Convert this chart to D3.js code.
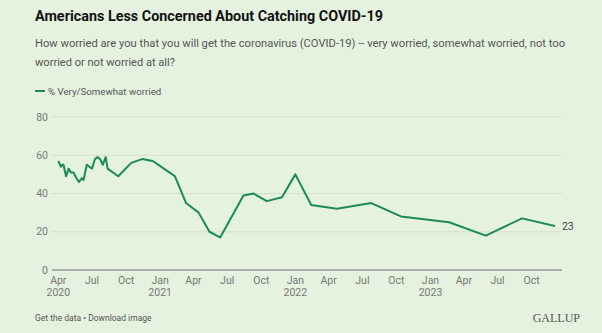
<!DOCTYPE html>
<html>
<head>
<meta charset="utf-8">
<script src="https://cdn.jsdelivr.net/npm/d3@7"></script>
<style>
  html, body { margin: 0; padding: 0; background: #e5f2e0; }
  svg { display: block; font-family: Roboto, "Liberation Sans", sans-serif; }
</style>
</head>
<body>
<svg id="chart" width="602" height="333"></svg>
<script>
var dates = ["2020-04-01","2020-04-08","2020-04-12","2020-04-15","2020-04-22","2020-04-29",
  "2020-05-05","2020-05-12","2020-05-20","2020-05-27","2020-06-03","2020-06-08","2020-06-17",
  "2020-06-24","2020-07-01","2020-07-09","2020-07-16","2020-07-23","2020-07-30","2020-08-07",
  "2020-08-12","2020-09-10","2020-10-15","2020-11-13","2020-12-12","2021-01-19","2021-02-10",
  "2021-03-12","2021-04-15","2021-05-14","2021-06-12","2021-08-14","2021-09-10","2021-10-16",
  "2021-11-26","2022-01-01","2022-02-13","2022-04-23","2022-07-25","2022-10-13","2023-02-20",
  "2023-05-30","2023-09-05","2023-12-03"];
var worried = [57, 54, 55, 55, 49, 53, 51, 51, 48, 46, 48, 47, 55, 54, 53, 58, 59, 58, 55, 59,
  53, 49, 56, 58, 57, 52, 49, 35, 30, 20, 17, 39, 40, 36, 38, 50, 34, 32, 35, 28, 25, 18, 27, 23];
var yTicks = [0, 20, 40, 60, 80];
var monthTicks = ["2020-04-01","2020-07-01","2020-10-01","2021-01-01","2021-04-01","2021-07-01",
  "2021-10-01","2022-01-01","2022-04-01","2022-07-01","2022-10-01","2023-01-01","2023-04-01",
  "2023-07-01","2023-10-01"];
var yearLabels = ["2020-04-01","2021-01-01","2022-01-01","2023-01-01"];

var parse = d3.timeParse("%Y-%m-%d");
var data = dates.map(function(d, i) { return {date: parse(d), value: worried[i]}; });

var svg = d3.select("#chart");
var green = "#1b8a54";

var x = d3.scaleTime()
    .domain([parse("2020-03-15"), parse("2023-12-22")])
    .range([52, 562]);
var y = d3.scaleLinear().domain([0, 80]).range([270, 117]);

// header
svg.append("text")
    .attr("x", 35).attr("y", 21)
    .attr("font-size", "15.5px").attr("font-weight", "bold").attr("fill", "#111")
    .attr("textLength", 348).attr("lengthAdjust", "spacingAndGlyphs")
    .text("Americans Less Concerned About Catching COVID-19");

var sub = svg.append("g")
    .attr("font-size", "11.5px").attr("fill", "#555");
sub.append("text").attr("x", 35).attr("y", 47)
    .attr("textLength", 530).attr("lengthAdjust", "spacingAndGlyphs")
    .text("How worried are you that you will get the coronavirus (COVID-19) -- very worried, somewhat worried, not too");
sub.append("text").attr("x", 35).attr("y", 66)
    .attr("textLength", 140).attr("lengthAdjust", "spacingAndGlyphs")
    .text("worried or not worried at all?");

svg.append("line")
    .attr("x1", 35).attr("x2", 45).attr("y1", 91).attr("y2", 91)
    .attr("stroke", green).attr("stroke-width", 2);
svg.append("text")
    .attr("x", 48).attr("y", 94.5)
    .attr("font-size", "9.7px").attr("fill", "#555")
    .text("% Very/Somewhat worried");

// grid + y labels
var g = svg.append("g");
g.selectAll(".grid")
    .data(yTicks.filter(function(d) { return d > 0; }))
  .enter().append("line")
    .attr("x1", 52).attr("x2", 562)
    .attr("y1", function(d) { return y(d); })
    .attr("y2", function(d) { return y(d); })
    .attr("stroke", "#d3e0cf").attr("stroke-width", 1);

g.selectAll(".ylab")
    .data(yTicks)
  .enter().append("text")
    .attr("x", 48)
    .attr("y", function(d) { return y(d); })
    .attr("dy", "0.35em")
    .attr("text-anchor", "end")
    .attr("font-size", "10.5px").attr("fill", "#777")
    .text(function(d) { return d; });

g.append("line")
    .attr("x1", 52).attr("x2", 562)
    .attr("y1", y(0)).attr("y2", y(0))
    .attr("stroke", "#999").attr("stroke-width", 1.5);

// x labels
g.selectAll(".mlab")
    .data(monthTicks.map(parse))
  .enter().append("text")
    .attr("x", function(d) { return x(d); })
    .attr("y", 284)
    .attr("text-anchor", "middle")
    .attr("font-size", "10.5px").attr("fill", "#777")
    .text(d3.timeFormat("%b"));

g.selectAll(".ylab2")
    .data(yearLabels.map(parse))
  .enter().append("text")
    .attr("x", function(d) { return x(d); })
    .attr("y", 296)
    .attr("text-anchor", "middle")
    .attr("font-size", "10.5px").attr("fill", "#777")
    .text(d3.timeFormat("%Y"));

// line
var line = d3.line()
    .x(function(d) { return x(d.date); })
    .y(function(d) { return y(d.value); });

g.append("path")
    .datum(data)
    .attr("fill", "none")
    .attr("stroke", green)
    .attr("stroke-width", 2)
    .attr("stroke-linejoin", "round")
    .attr("d", line);

var last = data[data.length - 1];
g.append("text")
    .attr("x", x(last.date) + 7)
    .attr("y", y(last.value))
    .attr("dy", "0.35em")
    .attr("font-size", "10.5px").attr("fill", "#444")
    .text(last.value);

// footer
svg.append("text")
    .attr("x", 35).attr("y", 321)
    .attr("font-size", "8.5px").attr("fill", "#555")
    .text("Get the data \u2022 Download image");
svg.append("text")
    .attr("x", 580).attr("y", 322)
    .attr("text-anchor", "end")
    .attr("font-family", "'Liberation Serif', serif")
    .attr("font-size", "12px").attr("fill", "#555")
    .text("GALLUP");
</script>
</body>
</html>
